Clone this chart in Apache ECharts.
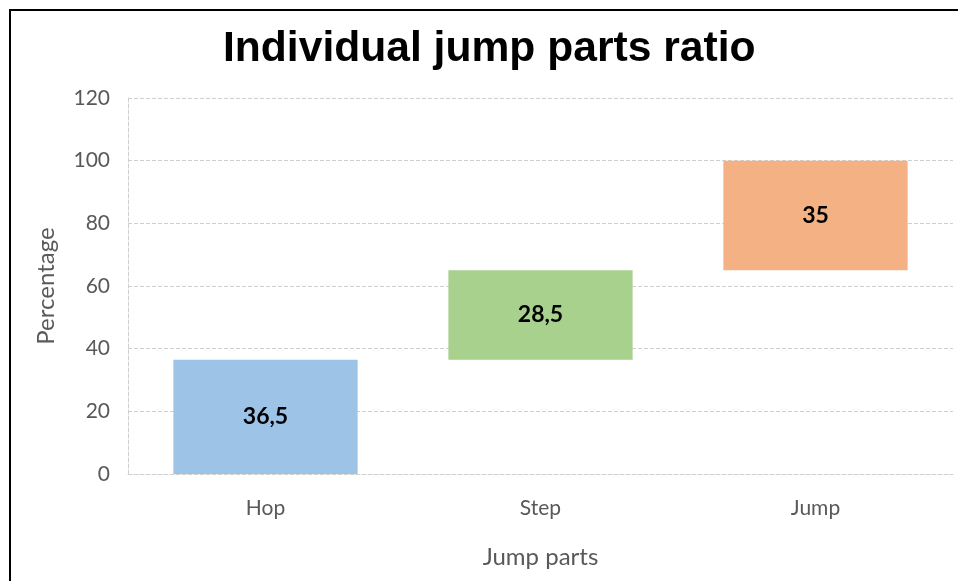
<!DOCTYPE html>
<html><head><meta charset="utf-8">
<script src="https://cdn.jsdelivr.net/npm/echarts@6/dist/echarts.min.js"></script>
<style>
html,body{margin:0;padding:0;background:#fff;}
#frame{position:absolute;left:9px;top:9px;width:960px;height:580px;border-left:2px solid #000;border-top:2px solid #000;}
#chart{position:absolute;left:0;top:0;width:958px;height:581px;}
</style></head>
<body>
<div id="frame"></div>
<div id="chart"></div>
<script>
const categories = ['Hop', 'Step', 'Jump'];
const baseValues = [0, 36.5, 65];
const partValues = [36.5, 28.5, 35];
const barColors = ['#9DC3E6', '#A9D18E', '#F4B183'];
const yTicks = [0, 20, 40, 60, 80, 100, 120];

const chart = echarts.init(document.getElementById('chart'));
const axisFont = {color: '#595959', fontSize: 21, fontFamily: 'Lato'};
const nameFont = {color: '#595959', fontSize: 24, fontFamily: 'Lato'};
chart.setOption({
  animation: false,
  graphic: [{type: 'text', left: 223, top: 28,
    style: {text: 'Individual jump parts ratio', fontFamily: 'Liberation Sans', fontWeight: 'bold',
      fontSize: 42.6, fill: '#000'}}],
  grid: {left: 128, right: 5, top: 98, bottom: 107},
  xAxis: {type: 'category', data: categories,
    name: 'Jump parts', nameLocation: 'middle', nameGap: 71,
    nameTextStyle: nameFont,
    axisLine: {lineStyle: {color: '#cfcfcf', type: 'dashed'}},
    axisTick: {show: false},
    axisLabel: Object.assign({margin: 24}, axisFont)},
  yAxis: {type: 'value', min: 0, max: 120, interval: 20,
    name: 'Percentage', nameLocation: 'middle', nameGap: 70, nameRotate: 90,
    nameTextStyle: nameFont,
    axisLine: {show: true, lineStyle: {color: '#cfcfcf', type: 'dashed'}},
    axisLabel: Object.assign({margin: 18}, axisFont),
    splitLine: {lineStyle: {color: '#cfcfcf', type: 'dashed'}}},
  series: [
    {type: 'bar', stack: 'w', data: baseValues, barWidth: '67%',
     itemStyle: {color: 'transparent'}, silent: true},
    {type: 'bar', stack: 'w', barWidth: '67%',
     data: partValues.map((v, i) => ({value: v, itemStyle: {color: barColors[i]}})),
     label: {show: true, position: 'inside', color: '#000', fontWeight: 'bold', fontSize: 23,
       fontFamily: 'Lato', formatter: p => String(p.value).replace('.', ',')}}
  ]
});
</script>
</body></html>
